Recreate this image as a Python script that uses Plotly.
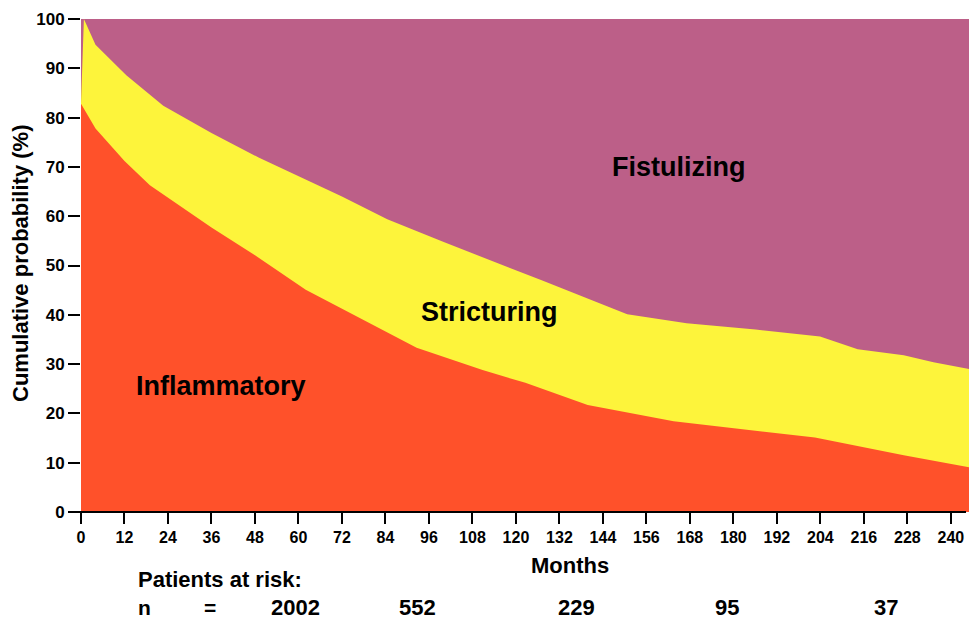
import plotly.graph_objects as go

# ---- data ----
# Upper edge of the "Inflammatory" band (cumulative %)
months_inflammatory = [0, 4, 12, 19, 36, 48, 62, 84.5, 92.6, 110.8, 122.6, 139.8, 163.5, 202.5, 227, 245]
inflammatory_pct = [82.8, 77.8, 71.2, 66.3, 57.7, 52.1, 45.1, 36.5, 33.3, 28.8, 26.2, 21.7, 18.4, 15.1, 11.5, 9.1]

# Upper edge of the "Stricturing" band (inflammatory + stricturing, cumulative %)
months_stricturing = [0, 0.8, 4, 12.5, 22.7, 36, 49, 72, 84.5, 99.9, 127.1, 150.7, 167.1, 186.1, 203.9, 214.3, 227, 235.2, 245]
infl_plus_strict_pct = [82.8, 100, 94.8, 88.6, 82.4, 76.9, 71.9, 64.0, 59.4, 54.8, 47.0, 40.1, 38.3, 37.0, 35.6, 33.0, 31.8, 30.4, 29.0]

# Fistulizing fills the rest up to 100 %
months_total = [0, 245]
total_pct = [100, 100]

x_ticks = list(range(0, 241, 12))
y_ticks = list(range(0, 101, 10))

risk_label = "n"
patients_at_risk = [2002, 552, 229, 95, 37]

PURPLE = "#BC5F88"
YELLOW = "#FDF43B"
RED = "#FF512A"
FONT = "Arial, Liberation Sans, Helvetica, sans-serif"

fig = go.Figure()
fig.add_trace(go.Scatter(x=months_total, y=total_pct, mode="lines", line=dict(width=0),
                         fill="tozeroy", fillcolor=PURPLE, name="Fistulizing", hoverinfo="skip"))
fig.add_trace(go.Scatter(x=months_stricturing, y=infl_plus_strict_pct, mode="lines", line=dict(width=0),
                         fill="tozeroy", fillcolor=YELLOW, name="Stricturing"))
fig.add_trace(go.Scatter(x=months_inflammatory, y=inflammatory_pct, mode="lines", line=dict(width=0),
                         fill="tozeroy", fillcolor=RED, name="Inflammatory"))

L, R, T, B = 81, 0, 19, 109
W, H = 969, 621
PW, PH = W - L - R, H - T - B


def px(xp):
    return (xp - L) / PW


def py(yp):
    return (H - B - yp) / PH


fig.update_layout(
    width=W, height=H,
    margin=dict(l=L, r=R, t=T, b=B),
    paper_bgcolor="white", plot_bgcolor="white",
    showlegend=False,
    font=dict(family=FONT, color="black"),
    xaxis=dict(range=[0, 245], tickmode="array", tickvals=x_ticks,
               ticks="outside", ticklen=11, tickwidth=2, tickcolor="black",
               tickfont=dict(size=16, family=FONT, weight="bold", color="black"),
               showgrid=False, zeroline=False, showline=False),
    yaxis=dict(range=[0, 100], tickmode="array", tickvals=y_ticks,
               ticks="outside", ticklen=12, tickwidth=2, tickcolor="black",
               tickfont=dict(size=17, family=FONT, weight="bold", color="black"),
               showgrid=False, zeroline=False, showline=False),
)

# extended x-axis baseline
fig.add_shape(type="line", xref="paper", yref="paper", x0=px(70), x1=px(966), y0=0, y1=0,
              line=dict(color="black", width=2))

bold = dict(family=FONT, weight="bold", color="black")
ann = [
    dict(text="Fistulizing", x=px(678), y=py(167), size=27),
    dict(text="Stricturing", x=px(489), y=py(312), size=27),
    dict(text="Inflammatory", x=px(221), y=py(386), size=27),
    dict(text="Months", x=px(570), y=py(565), size=22),
]
for a in ann:
    fig.add_annotation(text=a["text"], x=a["x"], y=a["y"], xref="paper", yref="paper",
                       xanchor="center", yanchor="middle", showarrow=False,
                       font=dict(size=a["size"], **bold))

fig.add_annotation(text="Cumulative probability (%)", x=px(20), y=py(264), xref="paper", yref="paper",
                   xanchor="center", yanchor="middle", textangle=-90, showarrow=False,
                   font=dict(size=22, **bold))

fig.add_annotation(text="Patients at risk:", x=px(136), y=py(579), xref="paper", yref="paper",
                   xanchor="left", yanchor="middle", showarrow=False, font=dict(size=22, **bold))
row_y = py(607)
fig.add_annotation(text=risk_label, x=px(136), y=row_y, xref="paper", yref="paper",
                   xanchor="left", yanchor="middle", showarrow=False, font=dict(size=21, **bold))
fig.add_annotation(text="=", x=px(210), y=row_y, xref="paper", yref="paper",
                   xanchor="center", yanchor="middle", showarrow=False, font=dict(size=21, **bold))
risk_x = [295, 417, 576, 727, 886]
for n, xp in zip(patients_at_risk, risk_x):
    fig.add_annotation(text=str(n), x=px(xp), y=row_y, xref="paper", yref="paper",
                       xanchor="center", yanchor="middle", showarrow=False, font=dict(size=22, **bold))

fig.write_html("out.html", config={"displayModeBar": False})

# remove the browser's default page margin so the figure fills the window exactly
with open("out.html", "r", encoding="utf-8") as f:
    html = f.read()
html = html.replace("<head>", "<head><style>html,body{margin:0;padding:0;overflow:hidden;}</style>", 1)
with open("out.html", "w", encoding="utf-8") as f:
    f.write(html)
